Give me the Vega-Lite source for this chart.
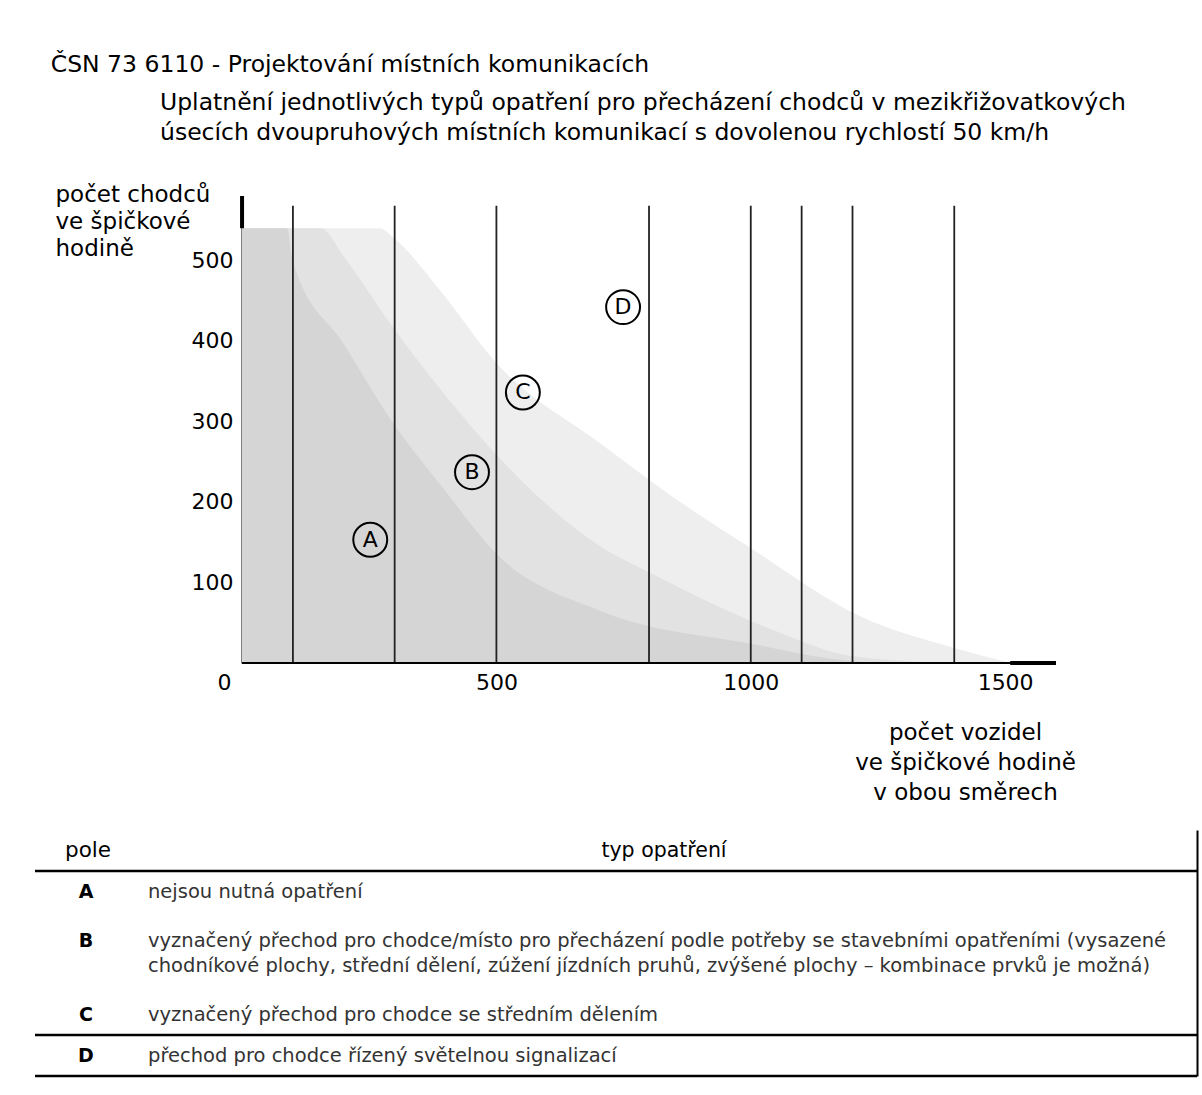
{
  "$schema": "https://vega.github.io/schema/vega-lite/v6.json",
  "padding": {"left": 33, "top": 53, "right": 0, "bottom": 0},
  "background": "white",
  "title": {"text": "ČSN 73 6110 - Projektování místních komunikacích", "anchor": "start", "dx": 17, "fontSize": 23.5, "fontWeight": "normal", "font": "DejaVu Sans", "color": "black", "offset": 14},
  "spacing": 26,
  "config": {"view": {"stroke": null}, "font": "DejaVu Sans"},
  "datasets": {
    "curves": [
      {"zone": "C", "x": 0, "y": 540}, {"zone": "C", "x": 270, "y": 540}, {"zone": "C", "x": 300, "y": 527}, {"zone": "C", "x": 389, "y": 463}, {"zone": "C", "x": 501, "y": 372}, {"zone": "C", "x": 704, "y": 273}, {"zone": "C", "x": 850, "y": 205}, {"zone": "C", "x": 999, "y": 143}, {"zone": "C", "x": 1215, "y": 58}, {"zone": "C", "x": 1398, "y": 19}, {"zone": "C", "x": 1513, "y": 0},
      {"zone": "B", "x": 0, "y": 540}, {"zone": "B", "x": 155, "y": 540}, {"zone": "B", "x": 200, "y": 505}, {"zone": "B", "x": 291, "y": 422}, {"zone": "B", "x": 409, "y": 325}, {"zone": "B", "x": 501, "y": 258}, {"zone": "B", "x": 704, "y": 145}, {"zone": "B", "x": 802, "y": 112}, {"zone": "B", "x": 1048, "y": 40}, {"zone": "B", "x": 1195, "y": 9}, {"zone": "B", "x": 1392, "y": 0},
      {"zone": "A", "x": 0, "y": 540}, {"zone": "A", "x": 88, "y": 540}, {"zone": "A", "x": 100, "y": 498}, {"zone": "A", "x": 199, "y": 397}, {"zone": "A", "x": 297, "y": 298}, {"zone": "A", "x": 399, "y": 214}, {"zone": "A", "x": 501, "y": 135}, {"zone": "A", "x": 704, "y": 65}, {"zone": "A", "x": 1018, "y": 22}, {"zone": "A", "x": 1150, "y": 6}, {"zone": "A", "x": 1250, "y": 0}
    ],
    "lines": [{"x": 100}, {"x": 300}, {"x": 500}, {"x": 800}, {"x": 1000}, {"x": 1100}, {"x": 1200}, {"x": 1400}],
    "labels": [
      {"zone": "A", "x": 252, "y": 153},
      {"zone": "B", "x": 452, "y": 237},
      {"zone": "C", "x": 552, "y": 336},
      {"zone": "D", "x": 749, "y": 442}
    ],
    "table": [
      {"row": "header", "pole": "pole", "popis": "typ opatření"},
      {"row": "A", "pole": "A", "popis": "nejsou nutná opatření"},
      {"row": "B", "pole": "B", "popis": "vyznačený přechod pro chodce/místo pro přecházení podle potřeby se stavebními opatřeními (vysazené\nchodníkové plochy, střední dělení, zúžení jízdních pruhů, zvýšené plochy – kombinace prvků je možná)"},
      {"row": "C", "pole": "C", "popis": "vyznačený přechod pro chodce se středním dělením"},
      {"row": "D", "pole": "D", "popis": "přechod pro chodce řízený světelnou signalizací"}
    ]
  },
  "vconcat": [
    {
      "width": 1021,
      "height": 467,
      "title": {"text": ["Uplatnění jednotlivých typů opatření pro přecházení chodců v mezikřižovatkových", "úsecích dvoupruhových místních komunikací s dovolenou rychlostí 50 km/h"], "anchor": "start", "frame": "group", "dx": 125, "fontSize": 23.5, "fontWeight": "normal", "lineHeight": 30, "offset": 39, "color": "black"},
      "layer": [
        {
          "data": {"name": "curves"},
          "transform": [{"filter": "datum.zone === 'C'"}],
          "mark": {"type": "area", "interpolate": "monotone", "color": "#eeeeee"},
          "encoding": {
            "x": {"field": "x", "type": "quantitative", "scale": {"domain": [-407, 1600], "nice": false, "zero": false},
              "axis": {"values": [0, 500, 1000, 1500], "format": "d", "ticks": false, "grid": false, "domain": false, "labelFontSize": 22, "labelPadding": 9, "labelColor": "black", "labelFlush": false, "labelOffset": {"condition": {"test": "datum.value === 0", "value": -18}, "value": 0},
                "title": ["počet vozidel", "ve špičkové hodině", "v obou směrech"], "titleX": 930, "titleY": 58, "titleAlign": "center", "titleBaseline": "top", "titleFontSize": 23, "titleFontWeight": "normal", "titleLineHeight": 30, "titleColor": "black"}},
            "y": {"field": "y", "type": "quantitative", "scale": {"domain": [0, 580], "nice": false},
              "axis": {"values": [100, 200, 300, 400, 500], "offset": -207, "ticks": false, "grid": false, "domainColor": "black", "domainWidth": 2, "labelFontSize": 22, "labelPadding": 9, "labelColor": "black",
                "title": ["počet chodců", "ve špičkové", "hodině"], "titleAngle": 0, "titleX": -187, "titleY": -13, "titleAlign": "left", "titleBaseline": "top", "titleFontSize": 23, "titleFontWeight": "normal", "titleLineHeight": 27, "titleColor": "black"}}
          }
        },
        {
          "data": {"name": "curves"},
          "transform": [{"filter": "datum.zone === 'B'"}],
          "mark": {"type": "area", "interpolate": "monotone", "color": "#e2e2e2"},
          "encoding": {"x": {"field": "x", "type": "quantitative"}, "y": {"field": "y", "type": "quantitative"}}
        },
        {
          "data": {"name": "curves"},
          "transform": [{"filter": "datum.zone === 'A'"}],
          "mark": {"type": "area", "interpolate": "monotone", "color": "#d5d5d5"},
          "encoding": {"x": {"field": "x", "type": "quantitative"}, "y": {"field": "y", "type": "quantitative"}}
        },
        {
          "data": {"name": "lines"},
          "mark": {"type": "rule", "color": "#222", "strokeWidth": 1.8},
          "encoding": {"x": {"field": "x", "type": "quantitative"}, "y": {"datum": 0}, "y2": {"datum": 568}}
        },
        {
          "data": {"values": [{}]},
          "mark": {"type": "rule", "color": "black", "strokeWidth": 2},
          "encoding": {"y": {"datum": 0}, "x": {"datum": 0}, "x2": {"datum": 1600}}
        },
        {
          "data": {"values": [{}]},
          "mark": {"type": "rule", "color": "black", "strokeWidth": 4},
          "encoding": {"x": {"datum": 0}, "y": {"datum": 540}, "y2": {"datum": 580}}
        },
        {
          "data": {"values": [{}]},
          "mark": {"type": "rule", "color": "black", "strokeWidth": 4},
          "encoding": {"y": {"datum": 0}, "x": {"datum": 1510}, "x2": {"datum": 1600}}
        },
        {
          "data": {"name": "labels"},
          "mark": {"type": "point", "shape": "circle", "filled": false, "size": 1150, "stroke": "black", "strokeWidth": 2, "opacity": 1},
          "encoding": {"x": {"field": "x", "type": "quantitative"}, "y": {"field": "y", "type": "quantitative"}}
        },
        {
          "data": {"name": "labels"},
          "mark": {"type": "text", "fontSize": 22, "color": "black", "align": "center", "baseline": "middle"},
          "encoding": {"x": {"field": "x", "type": "quantitative"}, "y": {"field": "y", "type": "quantitative"}, "text": {"field": "zone"}}
        }
      ]
    },
    {
      "width": 1162,
      "height": 246,
      "data": {"name": "table"},
      "layer": [
        {
          "transform": [{"filter": "datum.row === 'header'"}],
          "mark": {"type": "text", "fontSize": 21.5, "color": "black", "align": "center", "baseline": "middle"},
          "encoding": {
            "x": {"datum": "pole", "type": "nominal", "scale": {"type": "point", "domain": ["pole", "popis"], "range": [53, 113], "padding": 0}, "axis": null},
            "y": {"field": "row", "type": "nominal", "scale": {"type": "band", "domain": ["header", "A", "B", "B2", "C", "D"], "paddingInner": 0, "paddingOuter": 0},
              "axis": {"orient": "right", "labels": false, "ticks": false, "grid": false, "title": null, "domain": true, "domainColor": "black", "domainWidth": 2}},
            "text": {"field": "pole"}
          }
        },
        {
          "transform": [{"filter": "datum.row !== 'header' && datum.row !== 'B'"}],
          "mark": {"type": "text", "fontSize": 19, "fontWeight": "bold", "color": "black", "align": "center", "baseline": "middle", "dx": -2},
          "encoding": {
            "x": {"datum": "pole", "type": "nominal"},
            "y": {"field": "row", "type": "nominal"},
            "text": {"field": "pole"}
          }
        },
        {
          "transform": [{"filter": "datum.row === 'B'"}],
          "mark": {"type": "text", "fontSize": 19, "fontWeight": "bold", "color": "black", "align": "center", "baseline": "middle", "dx": -2},
          "encoding": {
            "x": {"datum": "pole", "type": "nominal"},
            "y": {"field": "row", "type": "nominal", "bandPosition": 0.7},
            "text": {"field": "pole"}
          }
        },
        {
          "transform": [{"filter": "datum.row !== 'header' && datum.row !== 'B'"}],
          "mark": {"type": "text", "fontSize": 19.5, "color": "#333", "align": "left", "baseline": "middle"},
          "encoding": {
            "x": {"datum": "popis", "type": "nominal"},
            "y": {"field": "row", "type": "nominal"},
            "text": {"field": "popis"}
          }
        },
        {
          "transform": [{"filter": "datum.row === 'B'"}],
          "mark": {"type": "text", "fontSize": 19.5, "color": "#333", "align": "left", "baseline": "middle", "lineBreak": "\n", "lineHeight": 25},
          "encoding": {
            "x": {"datum": "popis", "type": "nominal"},
            "y": {"field": "row", "type": "nominal", "bandPosition": 0.7},
            "text": {"field": "popis"}
          }
        },
        {
          "transform": [{"filter": "datum.row === 'header'"}],
          "mark": {"type": "text", "fontSize": 20.5, "color": "black", "align": "center", "baseline": "middle", "dx": 516},
          "encoding": {
            "x": {"datum": "popis", "type": "nominal"},
            "y": {"field": "row", "type": "nominal"},
            "text": {"field": "popis"}
          }
        },
        {
          "data": {"values": [{"row": "A"}, {"row": "D"}]},
          "mark": {"type": "rule", "color": "black", "strokeWidth": 2.5},
          "encoding": {"y": {"field": "row", "type": "nominal", "bandPosition": 0}}
        },
        {
          "data": {"values": [{"row": "D"}]},
          "mark": {"type": "rule", "color": "black", "strokeWidth": 2.5},
          "encoding": {"y": {"field": "row", "type": "nominal", "bandPosition": 1}}
        }
      ]
    }
  ]
}
